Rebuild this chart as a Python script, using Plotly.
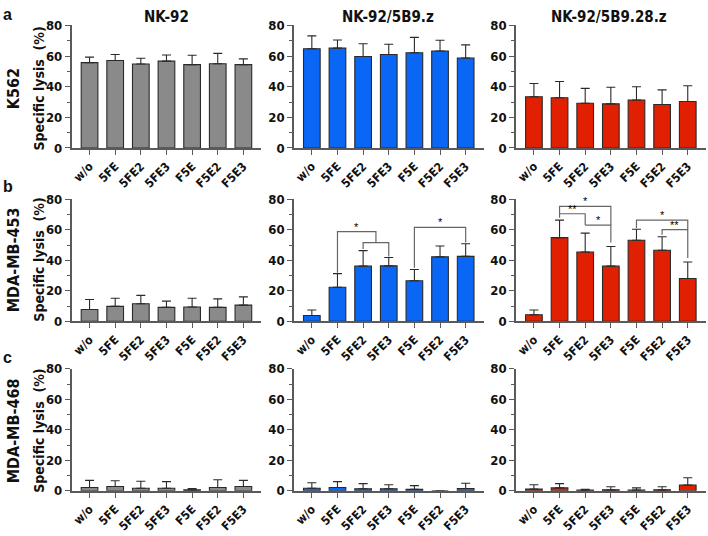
import plotly.graph_objects as go

# ---------------- data ----------------
categories = ["w/o", "5FE", "5FE2", "5FE3", "F5E", "F5E2", "F5E3"]
effectors = ["NK-92", "NK-92/5B9.z", "NK-92/5B9.28.z"]
targets = ["K562", "MDA-MB-453", "MDA-MB-468"]

# K562
k562_nk92 = [55.7, 57.1, 54.8, 56.7, 54.4, 55.0, 54.4]
k562_nk92_sd = [3.6, 3.9, 3.8, 4.0, 6.1, 6.8, 3.8]
k562_z = [64.8, 65.2, 59.7, 61.0, 62.2, 63.3, 58.8]
k562_z_sd = [8.4, 5.3, 8.4, 6.7, 10.0, 7.0, 8.5]
k562_28z = [33.4, 32.8, 29.2, 28.8, 31.3, 28.4, 30.3]
k562_28z_sd = [8.7, 10.6, 9.7, 10.8, 8.7, 9.5, 10.3]

# MDA-MB-453
mb453_nk92 = [7.7, 9.8, 11.5, 9.1, 9.4, 9.1, 10.6]
mb453_nk92_sd = [6.6, 5.3, 5.5, 4.1, 5.7, 5.6, 5.4]
mb453_z = [3.8, 22.3, 36.2, 36.4, 26.6, 42.3, 42.6]
mb453_z_sd = [3.6, 9.0, 10.2, 5.5, 7.4, 7.1, 8.3]
mb453_28z = [4.3, 54.9, 45.5, 36.2, 53.2, 46.6, 28.1]
mb453_28z_sd = [3.1, 11.5, 12.4, 12.9, 7.2, 8.9, 10.8]

# MDA-MB-468
mb468_nk92 = [2.1, 2.8, 1.7, 1.7, 0.6, 2.1, 2.8]
mb468_nk92_sd = [4.7, 3.8, 4.5, 4.3, 0.9, 5.1, 4.0]
mb468_z = [1.7, 2.1, 1.3, 1.3, 0.9, 0.0, 1.5]
mb468_z_sd = [3.6, 3.9, 3.4, 2.7, 2.5, 0.0, 3.4]
mb468_28z = [1.1, 1.9, 0.4, 0.6, 0.4, 0.6, 3.8]
mb468_28z_sd = [2.9, 2.8, 0.5, 2.0, 1.5, 2.0, 4.7]

y_ticks = [0, 20, 40, 60, 80]

# significance brackets: (x_left, x_right, y_bar, y_left_end, y_right_end, label)
brackets_453_z = [
    (1, 2.5, 58.9, 31.9, 51.7, "*"),
    (2, 3, 51.7, 47.4, 42.5, ""),
    (4, 6, 61.7, 35.1, 51.7, "*"),
]
brackets_453_28z = [
    (1, 3, 75.5, 70.6, 63.2, "*"),
    (1, 2, 70.6, 68.0, 63.2, "**"),
    (2, 3, 63.2, 63.2, 51.7, "*"),
    (4, 6, 66.4, 61.3, 60.2, "*"),
    (5, 6, 60.2, 56.8, 41.5, "**"),
]

values = [
    [(k562_nk92, k562_nk92_sd), (k562_z, k562_z_sd), (k562_28z, k562_28z_sd)],
    [(mb453_nk92, mb453_nk92_sd), (mb453_z, mb453_z_sd), (mb453_28z, mb453_28z_sd)],
    [(mb468_nk92, mb468_nk92_sd), (mb468_z, mb468_z_sd), (mb468_28z, mb468_28z_sd)],
]
brackets = {(1, 1): brackets_453_z, (1, 2): brackets_453_28z}

# ---------------- style ----------------
W, H = 708, 536
colors = ["#8a8a8a", "#0a66f5", "#e02000"]
FONT = "DejaVu Sans Condensed, Liberation Sans Narrow, Arial, sans-serif"
AXC = "#5a5a5a"
col_px = [70.7, 293.3, 515.7]
col_w = 190
row_px = [(19, 145), (198, 323.3), (372.3, 497.7)]

fig = go.Figure()
xpos = list(range(len(categories)))

for r in range(3):
    for c in range(3):
        k = r * 3 + c + 1
        xa = "x" if k == 1 else f"x{k}"
        ya = "y" if k == 1 else f"y{k}"
        vals, sds = values[r][c]
        fig.add_trace(go.Bar(
            x=xpos, y=vals, xaxis=xa, yaxis=ya, width=0.65,
            marker=dict(color=colors[c], line=dict(color="#2a2a2a", width=1.1)),
            error_y=dict(type="data", symmetric=False, array=sds,
                         arrayminus=[0] * len(sds), color="#2a2a2a",
                         thickness=1.1, width=4.5),
            showlegend=False, hoverinfo="skip",
        ))
        x0 = col_px[c] / W
        x1 = (col_px[c] + col_w) / W
        ytop, ybot = row_px[r]
        xkey = "xaxis" if k == 1 else f"xaxis{k}"
        ykey = "yaxis" if k == 1 else f"yaxis{k}"
        fig.layout[xkey] = dict(
            domain=[x0, x1], anchor=ya, range=[-0.7, 6.7],
            tickvals=xpos, ticktext=categories, tickangle=-45,
            ticks="outside", ticklen=5, tickcolor=AXC, tickwidth=1.3,
            showline=True, linecolor=AXC, linewidth=1.5,
            showgrid=False, zeroline=False, fixedrange=True,
            tickfont=dict(family=FONT, size=12, color="#111", weight="bold"),
        )
        fig.layout[ykey] = dict(
            domain=[1 - ybot / H, 1 - ytop / H], anchor=xa, range=[0, 80],
            tickvals=y_ticks, ticks="outside", ticklen=5, tickcolor=AXC, tickwidth=1.3,
            minor=dict(dtick=10, ticks="outside", ticklen=3, tickcolor=AXC, tickwidth=1.1),
            showline=True, linecolor=AXC, linewidth=1.5,
            showgrid=False, zeroline=False, fixedrange=True,
            tickfont=dict(family=FONT, size=13, color="#111", weight="bold"),
        )
        for (bl, br, yb, yl, yr, lab) in brackets.get((r, c), []):
            path = f"M {bl} {yl} L {bl} {yb} L {br} {yb} L {br} {yr}"
            fig.add_shape(type="path", path=path, xref=xa, yref=ya,
                          line=dict(color="#666", width=1.2))
            if lab:
                fig.add_annotation(x=(bl + br) / 2, y=yb, xref=xa, yref=ya,
                                   text=lab, showarrow=False, yanchor="bottom",
                                   xanchor="center", yshift=-3,
                                   font=dict(family="Arial", size=11, color="#000000"))

# column titles
title_x = [165.7, 388, 609]
for c in range(3):
    fig.add_annotation(x=title_x[c] / W, y=1 - 10 / H, xref="paper", yref="paper",
                       text=effectors[c], showarrow=False,
                       xanchor="center", yanchor="middle",
                       font=dict(family=FONT, size=15, color="#111", weight="bold"))

# row labels
row_cy = [84, 260, 436]
letters = ["a", "b", "c"]
letter_y = [7.5, 185, 361]
for r in range(3):
    fig.add_annotation(x=12.5 / W, y=1 - row_cy[r] / H, xref="paper", yref="paper",
                       text=targets[r], showarrow=False, textangle=-90,
                       xanchor="center", yanchor="middle",
                       font=dict(family=FONT, size=16, color="#111", weight="bold"))
    fig.add_annotation(x=38 / W, y=1 - row_cy[r] / H, xref="paper", yref="paper",
                       text="Specific lysis  (%)", showarrow=False, textangle=-90,
                       xanchor="center", yanchor="middle",
                       font=dict(family=FONT, size=14, color="#111", weight="bold"))
    fig.add_annotation(x=7 / W, y=1 - letter_y[r] / H, xref="paper", yref="paper",
                       text=letters[r], showarrow=False,
                       xanchor="center", yanchor="middle",
                       font=dict(family="Arial", size=16, color="#111", weight="bold"))

fig.update_layout(
    width=W, height=H, autosize=False,
    margin=dict(l=0, r=0, t=0, b=0),
    paper_bgcolor="white", plot_bgcolor="white",
    bargap=0.35,
)

fig.write_html("out.html", config={"displayModeBar": False},
               post_script="document.body.style.margin='0';")
